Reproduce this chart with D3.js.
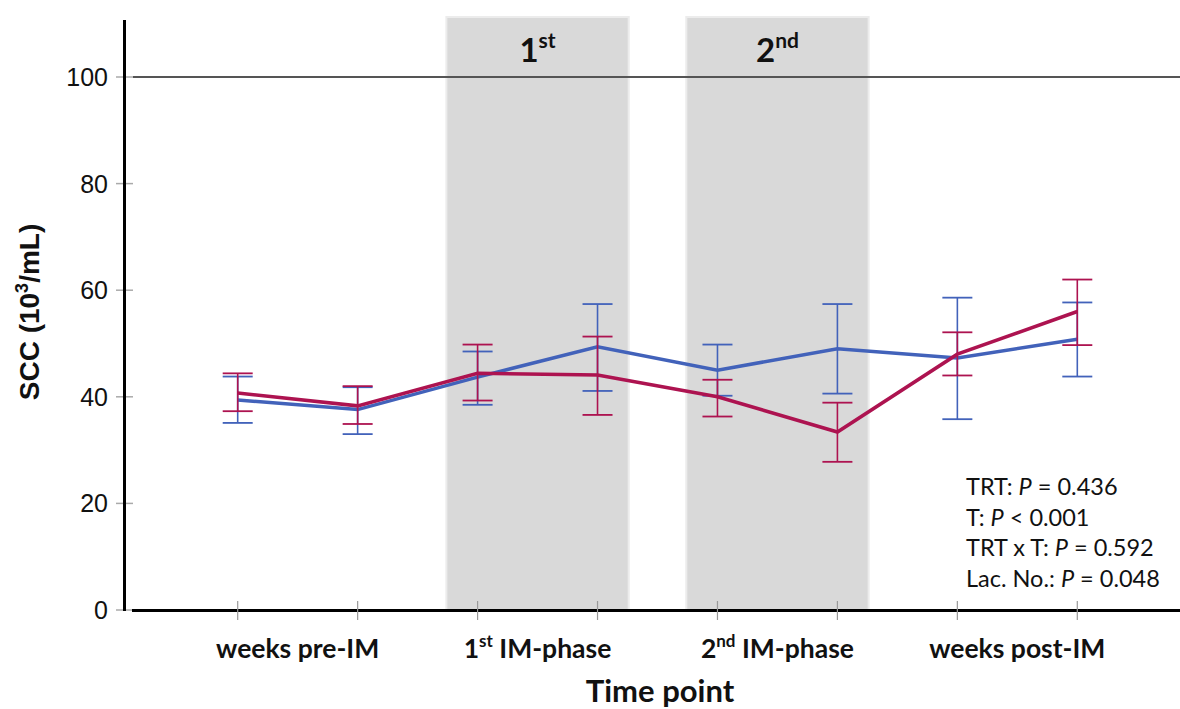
<!DOCTYPE html>
<html><head><meta charset="utf-8">
<script src="https://cdn.jsdelivr.net/npm/d3@7"></script>
<style>body{margin:0;background:#fff}svg{display:block}</style>
</head><body>
<svg id="c" width="1180" height="709"></svg>
<script>
const timeIndex = [0,1,2,3,4,5,6,7];
const groupLabels = [["weeks pre-IM",""],["1","st"," IM-phase"],["2","nd"," IM-phase"],["weeks post-IM",""]];
const yTicks = [0,20,40,60,80,100];
const blueMean  = [39.4, 37.6, 43.7, 49.4, 45.0, 49.0, 47.3, 50.8];
const blueUpper = [43.8, 41.8, 48.5, 57.4, 49.8, 57.4, 58.6, 57.7];
const blueLower = [35.1, 33.0, 38.5, 41.1, 40.2, 40.6, 35.8, 43.8];
const redMean   = [40.7, 38.3, 44.4, 44.1, 40.0, 33.4, 48.0, 56.0];
const redUpper  = [44.4, 42.0, 49.8, 51.3, 43.2, 38.9, 52.1, 62.0];
const redLower  = [37.3, 34.9, 39.3, 36.6, 36.3, 27.8, 44.0, 49.7];
const phaseBands = [[1.74,3.26,"1","st"],[3.74,5.26,"2","nd"]];
const refValue = 100;
const stats = [["TRT: ","P"," = 0.436"],["T: ","P"," < 0.001"],["TRT x T: ","P"," = 0.592"],["Lac. No.: ","P"," = 0.048"]];

const svg = d3.select("#c");
const x = d3.scaleLinear().domain([0,7]).range([237.7,1077.3]);
const y = d3.scaleLinear().domain([0,100]).range([610,77]);
const BLUE = "#4262ba", RED = "#ad1350";
const F = "Lato, 'Open Sans', sans-serif";
const A = "'Liberation Sans', Arial, sans-serif";

// bands
phaseBands.forEach(b=>{
  svg.append("rect").attr("x",x(b[0])).attr("y",17).attr("width",x(b[1])-x(b[0])).attr("height",610-17)
    .attr("fill","#d9d9d9").attr("stroke","#ececec").attr("stroke-width",2);
  const t = svg.append("text").attr("x",(x(b[0])+x(b[1]))/2).attr("y",62).attr("text-anchor","middle")
    .attr("font-family",F).attr("font-weight","bold").attr("font-size",33).attr("fill","#111");
  t.append("tspan").text(b[2]);
  t.append("tspan").attr("font-size",21).attr("dy",-14).text(b[3]);
});

// reference line
svg.append("line").attr("x1",133).attr("x2",1180).attr("y1",y(refValue)).attr("y2",y(refValue))
  .attr("stroke","#555").attr("stroke-width",2);

// y ticks
yTicks.forEach(v=>{
  svg.append("line").attr("x1",116).attr("x2",133).attr("y1",y(v)).attr("y2",y(v)).attr("stroke","#aaa").attr("stroke-width",1.5);
  svg.append("text").attr("x",108).attr("y",y(v)).attr("dy","0.36em").attr("text-anchor","end")
    .attr("font-family",A).attr("font-size",25).attr("fill","#111").text(v);
});
// axes
svg.append("line").attr("x1",124.5).attr("x2",124.5).attr("y1",20).attr("y2",611).attr("stroke","#000").attr("stroke-width",3);
svg.append("line").attr("x1",132).attr("x2",1180).attr("y1",610.5).attr("y2",610.5).attr("stroke","#000").attr("stroke-width",3);
timeIndex.forEach(i=>{
  svg.append("line").attr("x1",x(i)).attr("x2",x(i)).attr("y1",601).attr("y2",620).attr("stroke","#999").attr("stroke-width",1.2);
});

// x group labels
groupLabels.forEach((g,k)=>{
  const t = svg.append("text").attr("x",x(2*k+0.5)).attr("y",658).attr("text-anchor","middle")
    .attr("font-family",F).attr("font-weight","bold").attr("font-size",26.5).attr("fill","#111");
  if (g.length===2) { t.text(g[0]); }
  else {
    t.append("tspan").text(g[0]);
    t.append("tspan").attr("font-size",17).attr("dy",-11).text(g[1]);
    t.append("tspan").attr("dy",11).text(g[2]);
  }
});
svg.append("text").attr("x",660).attr("y",702).attr("text-anchor","middle").attr("font-family",F)
  .attr("font-weight","bold").attr("font-size",31).attr("fill","#111").text("Time point");

// y title
const yt = svg.append("text").attr("transform","translate(39,312) rotate(-90)").attr("text-anchor","middle")
  .attr("font-family",A).attr("font-weight","bold").attr("font-size",28).attr("fill","#111");
yt.append("tspan").text("SCC (10");
yt.append("tspan").attr("font-size",18).attr("dy",-11).text("3");
yt.append("tspan").attr("dy",11).text("/mL)");

// series
function drawSeries(mean, up, lo, col){
  const g = svg.append("g");
  timeIndex.forEach(i=>{
    g.append("line").attr("x1",x(i)).attr("x2",x(i)).attr("y1",y(up[i])).attr("y2",y(lo[i])).attr("stroke",col).attr("stroke-width",1.6);
    [up[i],lo[i]].forEach(v=>g.append("line").attr("x1",x(i)-15).attr("x2",x(i)+15).attr("y1",y(v)).attr("y2",y(v)).attr("stroke",col).attr("stroke-width",1.8));
  });
  g.append("path").datum(mean).attr("fill","none").attr("stroke",col).attr("stroke-width",3.5)
    .attr("d",d3.line().x((d,i)=>x(i)).y(d=>y(d)));
}
drawSeries(blueMean, blueUpper, blueLower, BLUE);
drawSeries(redMean, redUpper, redLower, RED);

// stats
stats.forEach((s,k)=>{
  const t = svg.append("text").attr("x",966).attr("y",495+k*30.5).attr("font-family",F).attr("font-size",23.5).attr("fill","#111");
  t.append("tspan").text(s[0]);
  t.append("tspan").attr("font-style","italic").text(s[1]);
  t.append("tspan").text(s[2]);
});
</script>
</body></html>
